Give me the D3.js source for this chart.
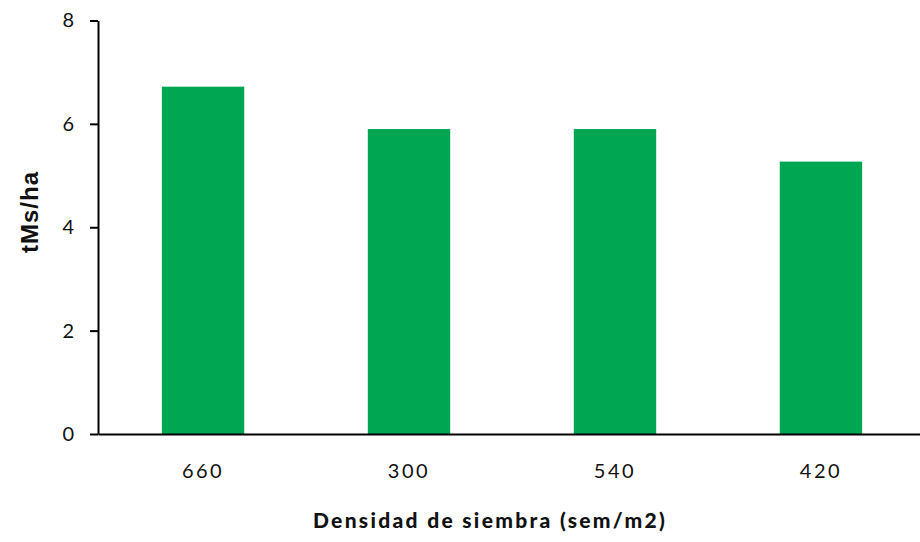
<!DOCTYPE html>
<html><head><meta charset="utf-8">
<script src="https://cdn.jsdelivr.net/npm/d3@7"></script>
<style>
body{margin:0;background:#fff;}
svg{display:block;}
</style></head>
<body><svg id="c" width="920" height="542"></svg>
<script>
const categories = ["660","300","540","420"];
const values = [6.72, 5.90, 5.90, 5.27];
const yTicks = [0,2,4,6,8];
const xTitle = "Densidad de siembra (sem/m2)";
const yTitle = "tMs/ha";

const svg = d3.select("#c");
const x = d3.scaleBand().domain(categories).range([98, 926]).paddingInner(0.6).paddingOuter(0.31);
const y = d3.scaleLinear().domain([0, 8]).range([434, 20.5]);

svg.selectAll("rect.bar").data(values).join("rect")
  .attr("class","bar")
  .attr("x",(d,i)=>x(categories[i]))
  .attr("width",x.bandwidth())
  .attr("y",d=>y(d))
  .attr("height",d=>y(0)-y(d))
  .attr("fill","#00a652");

const tickFont = "Lato, 'Open Sans', sans-serif";

const gx = svg.append("g").attr("transform","translate(0,434)")
  .call(d3.axisBottom(x).tickSize(0).tickSizeOuter(0).tickPadding(30));
gx.select(".domain").attr("stroke","#000").attr("stroke-width",2);
gx.selectAll("text").attr("font-family",tickFont).attr("font-size",20)
  .attr("letter-spacing","2.5px").attr("fill","#111");

const gy = svg.append("g").attr("transform","translate(98,0)")
  .call(d3.axisLeft(y).tickValues(yTicks).tickFormat(d3.format("d")).tickSize(8).tickSizeOuter(0).tickPadding(16));
gy.select(".domain").attr("stroke","#000").attr("stroke-width",2);
gy.selectAll(".tick line").attr("stroke","#000").attr("stroke-width",2);
gy.selectAll("text").attr("font-family",tickFont).attr("font-size",20).attr("fill","#111");

svg.append("text").attr("x",490).attr("y",528).attr("text-anchor","middle")
  .attr("font-family","Lato, sans-serif").attr("font-weight",900).attr("font-size",21)
  .attr("letter-spacing","2.3px").attr("fill","#111").text(xTitle);

svg.append("text").attr("transform","translate(38,212) rotate(-90)").attr("text-anchor","middle")
  .attr("font-family","'Liberation Sans', Arial, sans-serif").attr("font-weight","bold").attr("font-size",24)
  .attr("letter-spacing","1px").attr("fill","#111").text(yTitle);
</script></body></html>
